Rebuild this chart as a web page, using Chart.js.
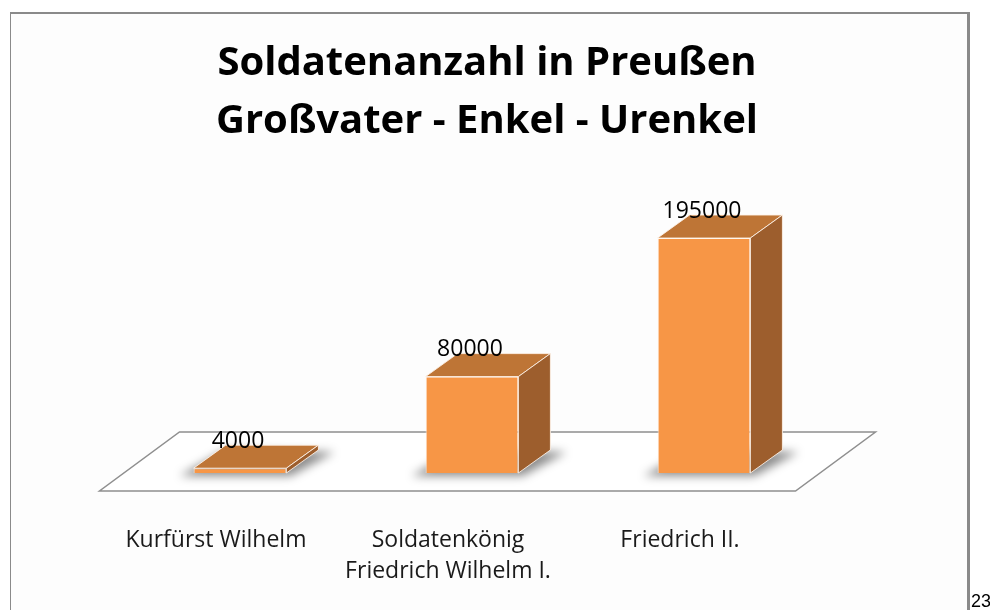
<!DOCTYPE html>
<html lang="de">
<head>
<meta charset="utf-8">
<title>Soldatenanzahl in Preußen</title>
<script src="https://cdn.jsdelivr.net/npm/chart.js@4.4.1/dist/chart.umd.min.js"></script>
<style>
    html, body { margin: 0; padding: 0; background: #ffffff; }
    #wrap { position: relative; width: 990px; height: 610px; overflow: hidden; }
    #frame {
        position: absolute; left: 10px; top: 12px; width: 956px; height: 620px;
        border-left: 1px solid #8a8a8a; border-top: 2px solid #8a8a8a; border-right: 3px solid #8a8a8a;
        background: #fdfdfd;
    }
    #slideNr {
        position: absolute; left: 971px; top: 591px;
        font-family: "Liberation Sans", Arial, sans-serif; font-size: 18px; color: #000;
    }
    canvas { position: absolute; left: 0; top: 0; }
</style>
</head>
<body>
<div id="wrap">
    <div id="frame"></div>
    <canvas id="chart" width="990" height="610"></canvas>
    <span id="slideNr">23</span>
</div>
<script>
// Daten
const titleLines = ["Soldatenanzahl in Preußen", "Großvater - Enkel - Urenkel"];
const categories = ["Kurfürst Wilhelm", ["Soldatenkönig", "Friedrich Wilhelm I."], "Friedrich II."];
const soldiers = [4000, 80000, 195000];

// Farben der 3D-Saeulen
const frontColor = "#F79646";
const topColor = "#BE7536";
const sideColor = "#9D5E2D";

// 3D-Versatz (Tiefe) fuer Saeulen und Boden
const depth = { dx: 32, dy: -23 };
const floorFront = { dx: -24.5, dy: 18 };
const floorBack = { dx: 55.5, dy: -41 };

function poly(ctx, pts) {
    ctx.beginPath();
    ctx.moveTo(pts[0][0], pts[0][1]);
    for (let i = 1; i < pts.length; i++) ctx.lineTo(pts[i][0], pts[i][1]);
    ctx.closePath();
}

// Boden, Schatten, Deckflaeche, Seitenflaeche und Werte
const bars3d = {
    id: "bars3d",
    beforeDatasetsDraw(chart) {
        const ctx = chart.ctx;
        const area = chart.chartArea;
        const base = chart.scales.y.getPixelForValue(0);

        ctx.save();
        poly(ctx, [
            [area.left + floorFront.dx, base + floorFront.dy],
            [area.right + floorFront.dx, base + floorFront.dy],
            [area.right + floorBack.dx, base + floorBack.dy],
            [area.left + floorBack.dx, base + floorBack.dy]
        ]);
        ctx.fillStyle = "#ffffff";
        ctx.fill();
        ctx.lineWidth = 1.5;
        ctx.strokeStyle = "#8f8f8f";
        ctx.stroke();

        // weiche Schatten unter den Saeulen
        ctx.filter = "blur(5px)";
        ctx.fillStyle = "rgba(0,0,0,0.45)";
        chart.getDatasetMeta(0).data.forEach(bar => {
            const l = bar.x - bar.width / 2, r = bar.x + bar.width / 2, b = bar.base;
            poly(ctx, [
                [l - 14, b + 3], [r + 4, b + 3],
                [r + depth.dx + 16, b + depth.dy + 2], [l + depth.dx, b + depth.dy]
            ]);
            ctx.fill();
        });
        ctx.restore();
    },
    afterDatasetsDraw(chart) {
        const ctx = chart.ctx;
        const meta = chart.getDatasetMeta(0);
        ctx.save();
        ctx.lineWidth = 1;
        ctx.strokeStyle = "rgba(255,245,235,0.85)";
        meta.data.forEach((bar, i) => {
            const l = bar.x - bar.width / 2, r = bar.x + bar.width / 2;
            const t = bar.y, b = bar.base;

            poly(ctx, [[l, t], [r, t], [r + depth.dx, t + depth.dy], [l + depth.dx, t + depth.dy]]);
            ctx.fillStyle = topColor;
            ctx.fill();
            ctx.stroke();

            poly(ctx, [[r, t], [r + depth.dx, t + depth.dy], [r + depth.dx, b + depth.dy], [r, b]]);
            ctx.fillStyle = sideColor;
            ctx.fill();
            ctx.stroke();

            // Datenbeschriftung
            ctx.fillStyle = "#000000";
            ctx.font = "23px 'Open Sans'";
            ctx.textAlign = "center";
            ctx.textBaseline = "middle";
            ctx.fillText(String(soldiers[i]), bar.x - 2, t + depth.dy - 4);
        });
        ctx.restore();
    }
};

new Chart(document.getElementById("chart"), {
    type: "bar",
    data: {
        labels: categories,
        datasets: [{
            data: soldiers,
            backgroundColor: frontColor,
            borderColor: "rgba(255,245,235,0.85)",
            borderWidth: 1,
            categoryPercentage: 0.8,
            barPercentage: 0.5
        }]
    },
    options: {
        responsive: false,
        animation: false,
        devicePixelRatio: 1,
        layout: { padding: { left: 124, right: 140, top: 0, bottom: 0 } },
        plugins: {
            legend: { display: false },
            tooltip: { enabled: false },
            title: {
                display: true,
                text: titleLines,
                color: "#000000",
                font: { family: "'Open Sans'", size: 40, weight: "bold", lineHeight: 1.45 },
                padding: { top: 35, bottom: 81 }
            }
        },
        scales: {
            x: {
                grid: { display: false },
                border: { display: false },
                ticks: {
                    color: "#1a1a1a",
                    font: { family: "'Open Sans'", size: 23, lineHeight: 1.35 },
                    padding: 44,
                    labelOffset: -24,
                    maxRotation: 0,
                    autoSkip: false
                },
                afterFit(scale) { scale.height = 137; }
            },
            y: {
                position: "right",
                min: 0,
                max: 200000,
                grid: { display: false },
                border: { display: false },
                ticks: { display: false },
                afterFit(scale) { scale.width = 30; }
            }
        }
    },
    plugins: [bars3d]
});
</script>
</body>
</html>
